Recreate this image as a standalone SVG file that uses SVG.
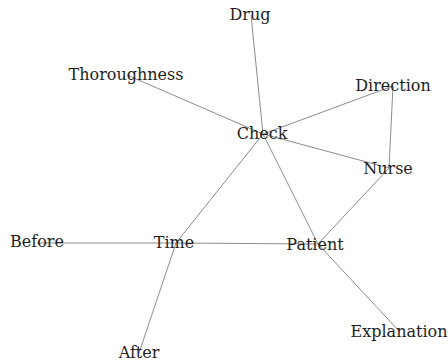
<svg xmlns="http://www.w3.org/2000/svg" width="448" height="363" viewBox="0 0 448 363">
  <style>
    .edge { stroke: #8c8c8c; stroke-width: 1; fill: none; }
    .label { font-family: "DejaVu Serif", "Liberation Serif", serif; font-size: 16px; fill: #1e1e1e; text-anchor: middle; }
  </style>
  <rect width="448" height="363" fill="#ffffff"/>
  <!-- connectors between word nodes -->
  <g id="edges">
    <line class="edge" x1="251" y1="15" x2="263" y2="134"/>
    <line class="edge" x1="127" y1="75" x2="263" y2="134"/>
    <line class="edge" x1="393" y1="86" x2="263" y2="134"/>
    <line class="edge" x1="393" y1="86" x2="389" y2="168"/>
    <line class="edge" x1="263" y1="134" x2="389" y2="168"/>
    <line class="edge" x1="263" y1="134" x2="318" y2="244"/>
    <line class="edge" x1="263" y1="134" x2="176" y2="243"/>
    <line class="edge" x1="389" y1="168" x2="318" y2="244"/>
    <line class="edge" x1="37" y1="243" x2="176" y2="243"/>
    <line class="edge" x1="176" y1="243" x2="318" y2="244"/>
    <line class="edge" x1="318" y1="244" x2="399" y2="331"/>
    <line class="edge" x1="176" y1="243" x2="139" y2="353"/>
  </g>
  <g id="node-drug"><text class="label" x="250" y="20">Drug</text></g>
  <g id="node-thoroughness"><text class="label" x="126" y="80">Thoroughness</text></g>
  <g id="node-check"><text class="label" x="262" y="139">Check</text></g>
  <g id="node-direction"><text class="label" x="393" y="91">Direction</text></g>
  <g id="node-nurse"><text class="label" x="388" y="174">Nurse</text></g>
  <g id="node-before"><text class="label" x="37" y="247">Before</text></g>
  <g id="node-time"><text class="label" x="174" y="248">Time</text></g>
  <g id="node-patient"><text class="label" x="315" y="250">Patient</text></g>
  <g id="node-explanation"><text class="label" x="399" y="337">Explanation</text></g>
  <g id="node-after"><text class="label" x="139" y="358">After</text></g>
</svg>
